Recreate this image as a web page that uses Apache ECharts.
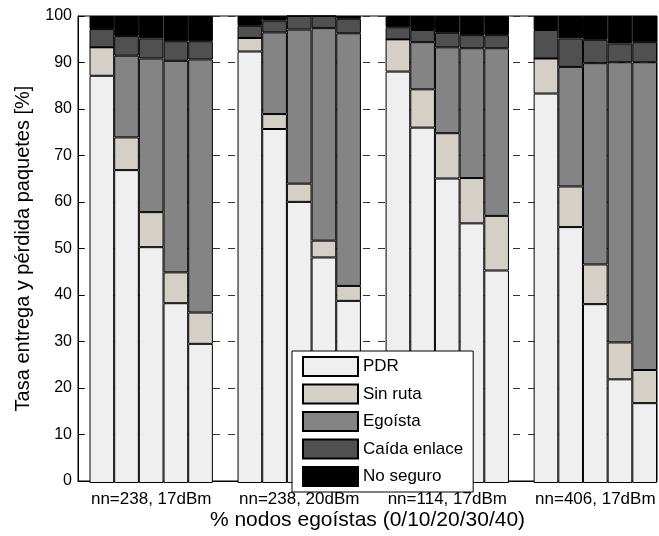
<!DOCTYPE html>
<html>
<head>
<meta charset="utf-8">
<script src="https://cdn.jsdelivr.net/npm/echarts@6/dist/echarts.min.js"></script>
<style>
html,body{margin:0;padding:0;background:#fff;}
#chart{width:659px;height:536px;}
</style>
</head>
<body>
<div id="chart"></div>
<script>
const groupLabels = ['nn=238, 17dBm', 'nn=238, 20dBm', 'nn=114, 17dBm', 'nn=406, 17dBm'];
const selfishPct = [0, 10, 20, 30, 40];
const seriesNames = ['PDR', 'Sin ruta', 'Egoísta', 'Caída enlace', 'No seguro'];
const yTicks = [0, 10, 20, 30, 40, 50, 60, 70, 80, 90, 100];

// values per group (5 bars each: 0/10/20/30/40 % selfish nodes)
const pdr = [
  [87.2, 67.0, 50.5, 38.5, 29.8],
  [92.4, 75.8, 60.2, 48.3, 39.0],
  [88.1, 76.1, 65.2, 55.6, 45.5],
  [83.4, 54.8, 38.3, 22.2, 17.1]
];
const sinRuta = [
  [6.1, 7.0, 7.5, 6.6, 6.7],
  [2.9, 3.2, 3.9, 3.6, 3.2],
  [6.9, 8.2, 9.7, 9.7, 11.7],
  [7.5, 8.7, 8.5, 7.9, 7.1]
];
const egoista = [
  [0, 17.5, 32.9, 45.3, 54.2],
  [0, 17.5, 33.0, 45.5, 54.1],
  [0, 10.1, 18.4, 27.8, 35.9],
  [0, 25.6, 43.1, 60.0, 65.9]
];
const caidaEnlace = [
  [3.9, 4.2, 4.3, 4.2, 3.9],
  [2.6, 2.5, 2.9, 2.6, 3.1],
  [2.6, 2.6, 3.1, 2.8, 2.8],
  [6.1, 6.1, 5.0, 4.0, 4.3]
];
const noSeguro = [
  [2.8, 4.3, 4.8, 5.4, 5.4],
  [2.1, 1.0, 0.0, 0.0, 0.6],
  [2.4, 3.0, 3.6, 4.1, 4.1],
  [3.0, 4.8, 5.1, 5.9, 5.6]
];

const colors = ['#efefef', '#d4d0c8', '#848484', '#505050', '#000000'];
const allSeries = [pdr, sinRuta, egoista, caidaEnlace, noSeguro];

// category slots: 5 bars per group, one empty slot between groups
const categories = [];
const labelAt = {};
groupLabels.forEach((gl, g) => {
  if (g > 0) categories.push('gap' + g);
  selfishPct.forEach((p, k) => {
    if (k === Math.floor(selfishPct.length / 2)) labelAt[categories.length] = gl;
    categories.push(gl + ' / ' + p + '%');
  });
});

const font = "'Liberation Sans', Arial, Helvetica, sans-serif";

const series = allSeries.map((vals, si) => {
  const data = [];
  vals.forEach((grp, g) => {
    if (g > 0) data.push(null);
    grp.forEach(v => data.push(v));
  });
  return {
    name: seriesNames[si],
    type: 'bar',
    stack: 'total',
    xAxisIndex: 1,
    yAxisIndex: 1,
    barWidth: '100%',
    barCategoryGap: 0,
    data: data,
    itemStyle: { color: colors[si], borderColor: '#000', borderWidth: 1 },
    emphasis: { disabled: true },
    animation: false
  };
});

const chart = echarts.init(document.getElementById('chart'), null, { renderer: 'canvas' });
chart.setOption({
  animation: false,
  backgroundColor: '#fff',
  textStyle: { fontFamily: font },
  grid: [
    { left: 78, right: 2, top: 16, bottom: 53, show: true, borderColor: '#000', borderWidth: 1, backgroundColor: 'transparent' },
    { left: 89.5, right: 2, top: 16, bottom: 53 }
  ],
  legend: {
    orient: 'vertical',
    left: 292, top: 351,
    data: seriesNames,
    itemWidth: 55, itemHeight: 19, itemGap: 6.5,
    padding: [5, 10, 5, 10],
    backgroundColor: '#fff',
    borderColor: '#000', borderWidth: 1,
    borderRadius: 0,
    icon: 'rect',
    selectedMode: false,
    textStyle: { fontSize: 17, lineHeight: 19, color: '#000', fontFamily: font }
  },
  xAxis: [
    {
      type: 'value', gridIndex: 0, min: 0, max: 1,
      name: '% nodos egoístas (0/10/20/30/40)',
      nameLocation: 'middle',
      nameGap: 29,
      nameTextStyle: { fontSize: 21, color: '#000', fontFamily: font },
      axisLine: { show: true, lineStyle: { color: '#000', width: 1 } },
      axisTick: { show: false },
      axisLabel: { show: false },
      splitLine: { show: false }
    },
    {
      type: 'category', gridIndex: 1,
      data: categories,
      boundaryGap: true,
      axisLine: { show: false },
      axisTick: { show: false },
      splitLine: { show: false },
      axisLabel: {
        interval: 0,
        formatter: (v, i) => labelAt[i] || '',
        fontSize: 17, color: '#000', margin: 8, fontFamily: font
      }
    }
  ],
  yAxis: [
    {
      type: 'value', gridIndex: 0,
      min: yTicks[0], max: yTicks[yTicks.length - 1], interval: 10,
      name: 'Tasa entrega y pérdida paquetes [%]',
      nameLocation: 'middle',
      nameGap: 45,
      nameTextStyle: { fontSize: 20, color: '#000', fontFamily: font },
      axisLine: { show: true, lineStyle: { color: '#000', width: 1 } },
      axisTick: { show: true, inside: true, length: 6, lineStyle: { color: '#000' } },
      axisLabel: { fontSize: 16, color: '#000', margin: 6, fontFamily: font },
      splitLine: { show: true, lineStyle: { color: '#333', width: 1, type: [7, 8] } }
    },
    {
      type: 'value', gridIndex: 1,
      min: yTicks[0], max: yTicks[yTicks.length - 1], interval: 10,
      show: false,
      splitLine: { show: false }
    }
  ],
  series: series
});
</script>
</body>
</html>
